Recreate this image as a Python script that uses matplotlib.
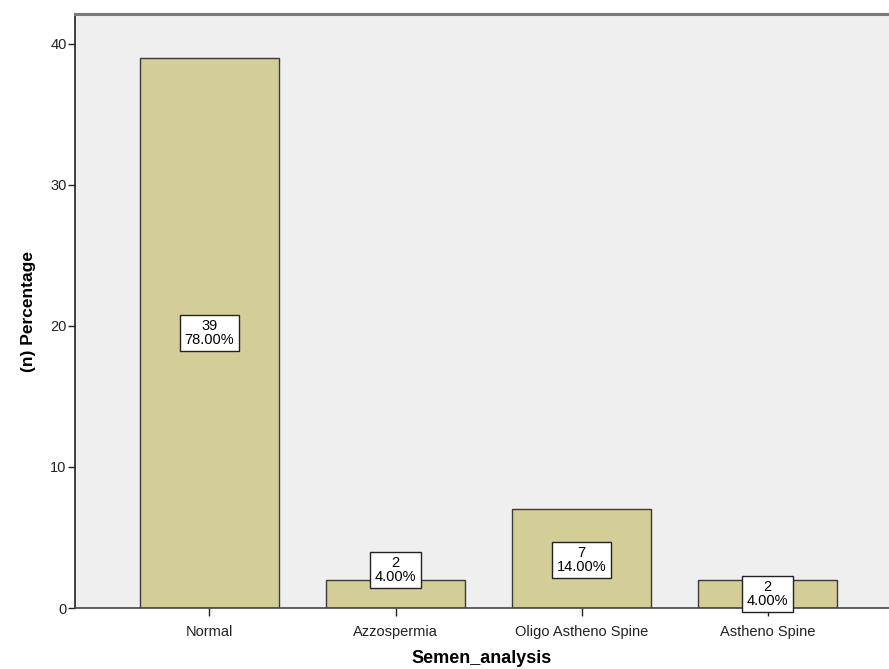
import matplotlib
matplotlib.use("Agg")
import matplotlib.pyplot as plt

categories = ["Normal", "Azzospermia", "Oligo Astheno Spine", "Astheno Spine"]
counts = [39, 2, 7, 2]
percents = [78.00, 4.00, 14.00, 4.00]
label_y = [19.5, 2.7, 3.4, 1.0]

plt.rcParams["font.family"] = ["Liberation Sans", "DejaVu Sans"]

fig = plt.figure(figsize=(8.89, 6.69), dpi=100)
ax = fig.add_axes([75 / 889, 1 - 608 / 669, 1 - 75 / 889, 594 / 669])
ax.set_facecolor("#EFEFEF")

x = list(range(len(categories)))
ax.bar(x, counts, width=0.75, color="#D3CE97", edgecolor="#3a3a3a", linewidth=1.0, zorder=2)

for xi, c, p, ly in zip(x, counts, percents, label_y):
    ax.text(xi, ly, f"{c}\n{p:.2f}%", ha="center", va="center", fontsize=10.5,
            linespacing=0.95, zorder=3,
            bbox=dict(boxstyle="square,pad=0.3", facecolor="white", edgecolor="#222222", linewidth=1.0))

ax.set_xlim(-0.723, 3.653)
ax.set_ylim(0, 42.1)
ax.set_yticks([0, 10, 20, 30, 40])
ax.set_xticks(x)
ax.set_xticklabels(categories, fontsize=10.5)
ax.tick_params(axis="y", labelsize=10.5, length=5, width=1, colors="#222222", pad=1)
ax.tick_params(axis="x", length=6, width=1, colors="#222222", pad=6)

ax.spines["right"].set_visible(False)
ax.spines["top"].set_color("#7a7a7a")
ax.spines["top"].set_linewidth(2.2)
ax.spines["left"].set_color("#222222")
ax.spines["left"].set_linewidth(1.2)
ax.spines["bottom"].set_color("#444444")
ax.spines["bottom"].set_linewidth(1.2)

ax.set_xlabel("Semen_analysis", fontsize=13, fontweight="bold", labelpad=8)
ax.set_ylabel("(n) Percentage", fontsize=12.5, fontweight="bold", labelpad=10)

fig.savefig("out.png", dpi=100)
